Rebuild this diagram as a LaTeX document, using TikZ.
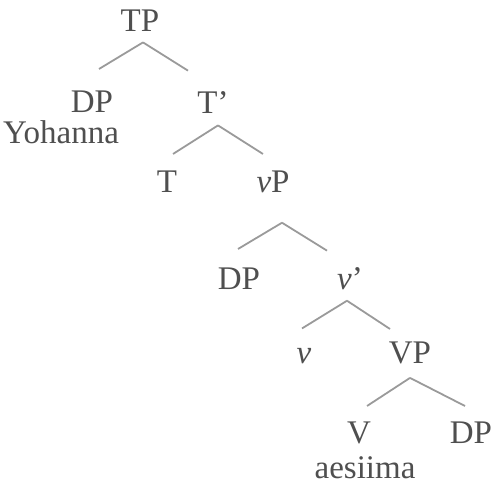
\documentclass[tikz,border=0pt]{standalone}
\usepackage{fontspec}
\setmainfont{Liberation Serif}
\usetikzlibrary{calc}
\definecolor{lbl}{HTML}{4F4F4F}
\definecolor{brn}{HTML}{9A9A9A}

\begin{document}
\begin{tikzpicture}[x=0.5pt,y=-0.5pt]
\useasboundingbox (0,0) rectangle (491,485);
\begin{scope}[every node/.style={anchor=base,inner sep=0pt,text=lbl,font=\fontsize{16.5}{19}\selectfont}]
\node (tp) at (140,32) {TP};
\node (dp1) at (92,113) {DP};
\node (yoh) at (61,144) {Yohanna};
\node (tbar) at (213,114) {T’};
\node (t) at (167,193) {T};
\node (vp) at (273,193) {\textit{v}P};
\node (dp2) at (239,290) {DP};
\node (vbar) at (350,290) {\textit{v}’};
\node (v) at (304,363) {\textit{v}};
\node (vpp) at (410,363) {VP};
\node (vv) at (359,443) {V};
\node (dp3) at (471,443) {DP};
\node (aes) at (365,478) {aesiima};
\end{scope}

\begin{scope}[every path/.style={draw=brn,line width=0.9pt}]
\draw ([shift={(3,10)}]tp.south) -- ([shift={(7,-22)}]dp1.north);
\draw ([shift={(3,10)}]tp.south) -- ([shift={(-25,-21)}]tbar.north);
\draw ([shift={(5,11)}]tbar.south) -- ([shift={(6,-17)}]t.north);
\draw ([shift={(5,11)}]tbar.south) -- ([shift={(-10,-17)}]vp.north);
\draw ([shift={(9,29)}]vp.south) -- ([shift={(-1,-19)}]dp2.north);
\draw ([shift={(9,29)}]vp.south) -- ([shift={(-23,-17)}]vbar.north);
\draw ([shift={(-3,10)}]vbar.south) -- ([shift={(-2,-19)}]v.north);
\draw ([shift={(-3,10)}]vbar.south) -- ([shift={(-20,-12)}]vpp.north);
\draw ([shift={(0,14)}]vpp.south) -- ([shift={(8,-15)}]vv.north);
\draw ([shift={(0,14)}]vpp.south) -- ([shift={(-6,-15)}]dp3.north);
\end{scope}
\end{tikzpicture}
\end{document}
